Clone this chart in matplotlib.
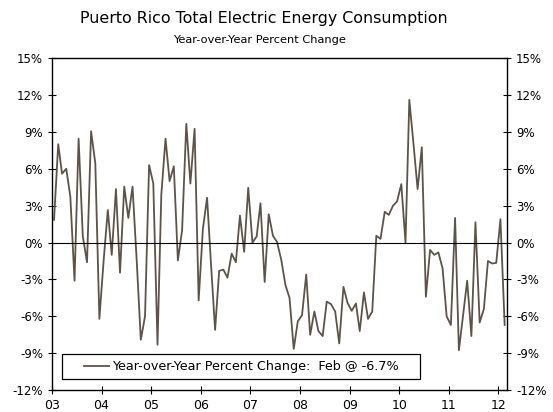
import numpy as np
import pandas as pd
import matplotlib
matplotlib.use("Agg")
import matplotlib.pyplot as plt
import matplotlib.dates as mdates
from matplotlib.patches import Rectangle

# monthly yoy % change, Jan 2003 - Feb 2012
yoy = [1.85, 8.0, 5.6, 6.0, 3.75, -3.1, 8.45, 0.5, -1.6, 9.05, 6.45, -6.2,
       -1.5, 2.65, -1.0, 4.35, -2.45, 4.55, 2.0, 4.55, -1.5, -7.9, -6.0, 6.3,
       4.8, -8.3, 3.9, 8.45, 5.0, 6.2, -1.45, 1.0, 9.65, 4.8, 9.25, -4.7,
       1.1, 3.65, -1.6, -7.1, -2.3, -2.2, -2.85, -0.9, -1.6, 2.2, -0.75, 4.45,
       0.0, 0.5, 3.2, -3.2, 2.3, 0.55, 0.05, -1.4, -3.45, -4.5, -8.65, -6.4,
       -5.9, -2.6, -7.5, -5.6, -7.2, -7.6, -4.8, -5.0, -5.6, -8.2, -3.6, -4.9,
       -5.55, -4.95, -7.2, -4.05, -6.2, -5.6, 0.55, 0.3, 2.5, 2.25, 3.0, 3.35,
       4.75, 0.0, 11.6, 8.0, 4.35, 7.75, -4.4, -0.6, -1.0, -0.8, -2.1, -6.0,
       -6.7, 2.0, -8.75, -5.9, -3.1, -7.6, 1.65, -6.5, -5.4, -1.5, -1.7, -1.65,
       1.9, -6.7]
dates = pd.date_range("2003-01-01", periods=len(yoy), freq="MS") + pd.Timedelta(days=15)
yticks = [15, 12, 9, 6, 3, 0, -3, -6, -9, -12]
label = "Year-over-Year Percent Change:  Feb @ -6.7%"

line_color = "#5e5347"

fig = plt.figure(figsize=(5.53, 4.12), dpi=100)
ax = fig.add_axes([0.094, 0.053, 0.823, 0.806])

ax.plot(dates, yoy, color=line_color, lw=1.3, label=label)
ax.axhline(0, color="black", lw=0.8)

ax.set_ylim(-12, 15)
ax.set_yticks(yticks)
ax.set_yticklabels([f"{t}%" for t in yticks])
ax.set_xlim(pd.Timestamp("2003-01-01"), pd.Timestamp("2012-03-05"))
ax.xaxis.set_major_locator(mdates.YearLocator())
ax.xaxis.set_major_formatter(mdates.DateFormatter("%y"))

ax.tick_params(axis="both", direction="inout", length=6, width=0.8,
               colors="black")
ax.tick_params(axis="y", left=True, right=True, labelleft=True,
               labelright=True, labelsize=8.5)
ax.tick_params(axis="x", labelsize=9)
for s in ax.spines.values():
    s.set_linewidth(1.0)
    s.set_color("black")

# legend box
box = (0.022, 0.033, 0.787, 0.075)
ax.add_patch(Rectangle(box[:2], box[2], box[3], transform=ax.transAxes,
                       facecolor="white", edgecolor="black", lw=0.9, zorder=4))
leg = ax.legend(loc="center", bbox_to_anchor=box, fontsize=9.2,
                frameon=False, handlelength=2.0, handletextpad=0.2,
                borderpad=0, borderaxespad=0)
leg.set_zorder(5)

fig.text(0.477, 0.956, "Puerto Rico Total Electric Energy Consumption",
         ha="center", va="center", fontsize=11.4)
fig.text(0.47, 0.903, "Year-over-Year Percent Change", ha="center",
         va="center", fontsize=8.2)

fig.savefig("out.png", dpi=100)
